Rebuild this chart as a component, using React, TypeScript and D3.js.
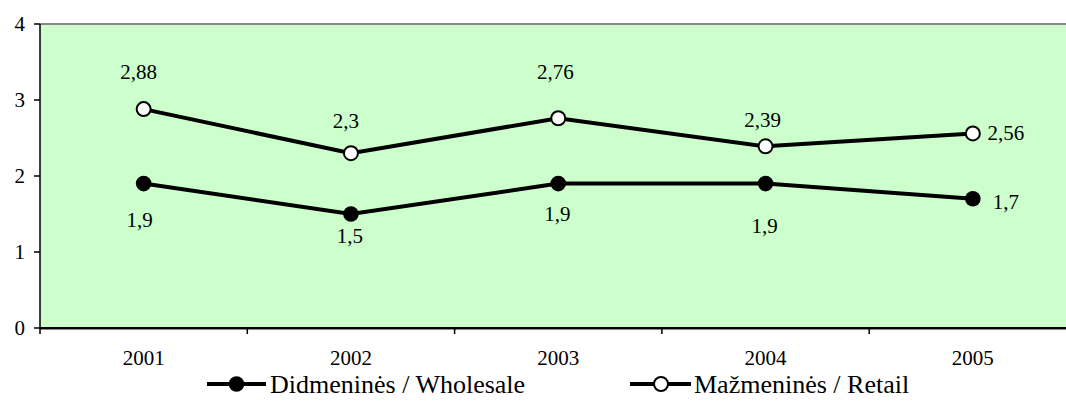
import React from "react";
import * as d3 from "d3";

const years = ["2001", "2002", "2003", "2004", "2005"];
const wholesale = [1.9, 1.5, 1.9, 1.9, 1.7];
const retail = [2.88, 2.3, 2.76, 2.39, 2.56];
const yTicks = [0, 1, 2, 3, 4];
const wholesaleName = "Didmeninės / Wholesale";
const retailName = "Mažmeninės / Retail";

// label placement (style, not data)
const retailLabelOffset: [number, number][] = [[-5, -30], [-5, -25], [-3, -39], [-3, -19], [33, 7]];
const wholesaleLabelOffset: [number, number][] = [[-4, 43], [-1, 29], [-1, 37], [-1, 49], [33, 10]];

const W = 1066;
const H = 410;

export default function App() {
  const left = 40;
  const band = 207.3;
  const x = d3.scaleBand<string>().domain(years).range([left, left + band * years.length]).padding(0);
  const y = d3.scaleLinear().domain([0, 4]).range([328, 24]);
  const cx = (d: string) => (x(d) as number) + x.bandwidth() / 2;
  const line = d3
    .line<number>()
    .x((_, i) => cx(years[i]))
    .y((v) => y(v));
  const fmt = (v: number) => String(v).replace(".", ",");
  const boundaries = d3.range(years.length + 1).map((i) => left + i * x.bandwidth());

  return (
    <svg width={W} height={H} style={{ position: "absolute", left: 0, top: 0 }}>
      <style>{`text { font-family: "Liberation Serif"; fill: #000; }`}</style>
      <rect x={0} y={0} width={W} height={H} fill="#fff" />
      <rect x={left} y={y(4)} width={W - left} height={y(0) - y(4)} fill="#CCFFCC" />
      <line x1={left} x2={W} y1={y(4)} y2={y(4)} stroke="#888" strokeWidth={2} />
      <line x1={left} x2={W} y1={y(0) + 1.5} y2={y(0) + 1.5} stroke="#888" strokeWidth={1} />
      {/* y axis */}
      <line x1={left} x2={left} y1={y(4)} y2={y(0)} stroke="#000" strokeWidth={1.5} />
      {yTicks.map((t) => (
        <g key={t}>
          <line x1={left - 6} x2={left} y1={y(t)} y2={y(t)} stroke="#000" strokeWidth={1.5} />
          <text x={25} y={y(t) + 7} textAnchor="end" fontSize={21}>
            {t}
          </text>
        </g>
      ))}
      {/* x axis */}
      <line x1={left} x2={W} y1={y(0)} y2={y(0)} stroke="#000" strokeWidth={1.8} />
      {boundaries.map((b, i) => (
        <line key={i} x1={b} x2={b} y1={y(0)} y2={y(0) + 6} stroke="#000" strokeWidth={1.5} />
      ))}
      {years.map((yr) => (
        <text key={yr} x={cx(yr)} y={365} textAnchor="middle" fontSize={21}>
          {yr}
        </text>
      ))}
      {/* lines */}
      <path d={line(wholesale) || ""} fill="none" stroke="#000" strokeWidth={4} />
      <path d={line(retail) || ""} fill="none" stroke="#000" strokeWidth={4} />
      {wholesale.map((v, i) => (
        <circle key={"w" + i} cx={cx(years[i])} cy={y(v)} r={7.8} fill="#000" />
      ))}
      {retail.map((v, i) => (
        <circle key={"r" + i} cx={cx(years[i])} cy={y(v)} r={7} fill="#fff" stroke="#000" strokeWidth={2} />
      ))}
      {/* labels */}
      {retail.map((v, i) => (
        <text
          key={"rl" + i}
          x={cx(years[i]) + retailLabelOffset[i][0]}
          y={y(v) + retailLabelOffset[i][1]}
          textAnchor="middle"
          fontSize={21}
        >
          {fmt(v)}
        </text>
      ))}
      {wholesale.map((v, i) => (
        <text
          key={"wl" + i}
          x={cx(years[i]) + wholesaleLabelOffset[i][0]}
          y={y(v) + wholesaleLabelOffset[i][1]}
          textAnchor="middle"
          fontSize={21}
        >
          {fmt(v)}
        </text>
      ))}
      {/* legend */}
      <g>
        <line x1={207} x2={266} y1={384} y2={384} stroke="#000" strokeWidth={4} />
        <circle cx={236.5} cy={384} r={7.8} fill="#000" />
        <text x={270} y={393} fontSize={26}>
          {wholesaleName}
        </text>
        <line x1={630} x2={691} y1={384} y2={384} stroke="#000" strokeWidth={4} />
        <circle cx={661} cy={384} r={7} fill="#fff" stroke="#000" strokeWidth={2} />
        <text x={694} y={393} fontSize={26}>
          {retailName}
        </text>
      </g>
    </svg>
  );
}
